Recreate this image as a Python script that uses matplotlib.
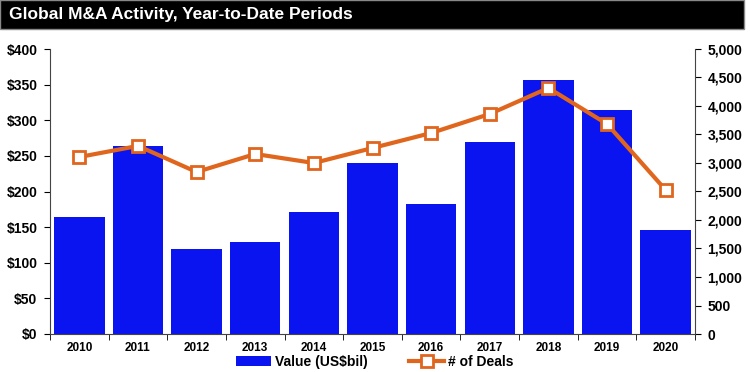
import numpy as np
import matplotlib.pyplot as plt
from matplotlib.patches import Rectangle

years = ['2010', '2011', '2012', '2013', '2014', '2015', '2016', '2017', '2018', '2019', '2020']
value = [164, 264, 119, 129, 171, 240, 182, 269, 356, 314, 146]   # US$bil
deals = [3105, 3300, 2842, 3158, 3000, 3263, 3526, 3860, 4316, 3684, 2526]

plt.rcParams['font.family'] = ['Liberation Sans', 'DejaVu Sans']
plt.rcParams['font.weight'] = 'bold'

fig = plt.figure(figsize=(7.5, 3.72), dpi=100)
# black title bar
fig.patches.append(Rectangle((0, 1 - 29/372), 744/750, 29/372, transform=fig.transFigure,
                             facecolor='black', edgecolor='#888888', lw=1, zorder=0))
fig.text(0.012, 1 - 14/372, 'Global M&A Activity, Year-to-Date Periods', color='white',
         fontsize=12.5, fontweight='bold', va='center', ha='left')

ax = fig.add_axes([50/750, 1 - 334/372, 645/750, 285/372])
x = np.arange(len(years))
bars = ax.bar(x, value, width=0.86, color='#0a14f0', label='Value (US$bil)', zorder=2)
ax.set_ylim(0, 400)
ax.set_xlim(-0.5, len(years) - 0.5)
ax.set_yticks(np.arange(0, 401, 50))
ax.set_yticklabels(['$%d' % v for v in range(0, 401, 50)])
ax.set_xticks(x)
ax.set_xticklabels(years)
ax.tick_params(axis='x', length=0, pad=6, labelsize=8.5)
ax.set_xticks(np.arange(-0.5, len(years), 1), minor=True)
ax.tick_params(axis='x', which='minor', length=4, direction='out')
ax.tick_params(axis='y', length=4, labelsize=10, pad=5)
for s in ['top', 'right']:
    ax.spines[s].set_visible(False)
ax.spines['left'].set_color('#444444')
ax.spines['bottom'].set_color('#444444')

ax2 = ax.twinx()
line, = ax2.plot(x, deals, color='#e0661e', lw=3, marker='s', markersize=9,
                 markerfacecolor='white', markeredgecolor='#e0661e', markeredgewidth=2,
                 label='# of Deals', zorder=3)
ax2.set_ylim(0, 5000)
ax2.set_yticks(np.arange(0, 5001, 500))
ax2.set_yticklabels(['{:,}'.format(v) for v in range(0, 5001, 500)])
ax2.tick_params(axis='y', length=4, labelsize=10, pad=5)
for s in ['top', 'left', 'bottom']:
    ax2.spines[s].set_visible(False)
ax2.spines['right'].set_color('#444444')

fig.legend([bars, line], ['Value (US$bil)', '# of Deals'], loc='center',
           bbox_to_anchor=(0.5, 1 - 362/372), ncol=2, frameon=False, fontsize=10,
           handlelength=2.5, columnspacing=3, handletextpad=0.3)

plt.savefig('out.png', dpi=100)
